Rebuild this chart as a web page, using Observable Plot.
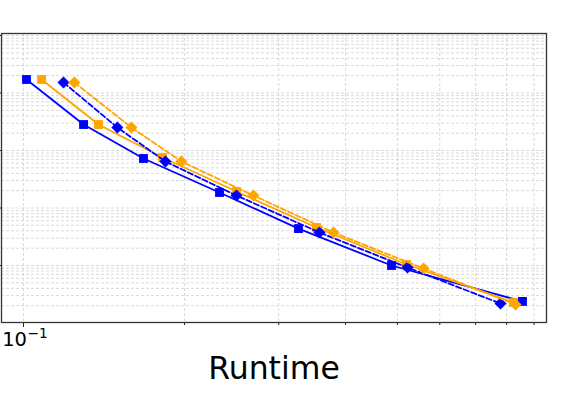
<!DOCTYPE html>
<html><head><meta charset="utf-8">
<script src="https://cdn.jsdelivr.net/npm/d3@7"></script>
<script src="https://cdn.jsdelivr.net/npm/@observablehq/plot@0.6"></script>
<style>html,body{margin:0;padding:0;background:#fff;} #chart svg{display:block;overflow:visible}</style>
</head><body><div id="chart"></div>
<script>
// Series 1: blue, solid, squares
const runtimeBlueSquare = [0.1013, 0.1295, 0.1676, 0.2325, 0.3266, 0.4874, 0.8564];
const errorBlueSquare   = [0.01718, 0.002831, 0.000726, 0.0001862, 4.39e-5, 1.0e-5, 2.37e-6];
// Series 2: orange, solid, squares
const runtimeOrangeSquare = [0.1081, 0.1381, 0.1819, 0.2501, 0.3529, 0.5198, 0.8240];
const errorOrangeSquare   = [0.01718, 0.002831, 0.000755, 0.0001936, 4.58e-5, 1.04e-5, 2.27e-6];
// Series 3: blue, dashed, diamonds
const runtimeBlueDiamond = [0.1188, 0.1498, 0.1842, 0.2501, 0.3575, 0.5221, 0.7791];
const errorBlueDiamond   = [0.01525, 0.002512, 0.000644, 0.0001648, 3.75e-5, 9.23e-6, 2.18e-6];
// Series 4: orange, dashed, diamonds
const runtimeOrangeDiamond = [0.1245, 0.1591, 0.1973, 0.2691, 0.3797, 0.5596, 0.8310];
const errorOrangeDiamond   = [0.01525, 0.002512, 0.000644, 0.0001648, 3.75e-5, 8.87e-6, 2.10e-6];

const xMajorTicks = [0.1];
const xLabel = "Runtime";

const xDomain = [Math.pow(10, -1.0411), Math.pow(10, -0.0224)];
const yDomain = [Math.pow(10, -5.9913), Math.pow(10, -0.9652)];

function rows(xs, ys) { return xs.map((x, i) => ({x, y: ys[i]})); }
const sA = rows(runtimeBlueSquare, errorBlueSquare);
const sB = rows(runtimeOrangeSquare, errorOrangeSquare);
const sC = rows(runtimeBlueDiamond, errorBlueDiamond);
const sD = rows(runtimeOrangeDiamond, errorOrangeDiamond);

const xGrid = d3.scaleLog().domain(xDomain).ticks();
const yGrid = d3.scaleLog().domain(yDomain).ticks();
const xMinor = xGrid.filter(v => !xMajorTicks.some(m => Math.abs(m - v) < 1e-12));
const yMajor = yGrid.filter(v => Math.abs(Math.log10(v) - Math.round(Math.log10(v))) < 1e-9);

const BLUE = "#0000ff", ORANGE = "#ffa500";
const FONT = "DejaVu Sans";
const gridStyle = {stroke: "#cfcfcf", strokeWidth: 0.8, strokeDasharray: "3,2"};

const plot = Plot.plot({
  width: 571, height: 411,
  marginLeft: 1, marginRight: 25, marginTop: 33, marginBottom: 89,
  style: {fontFamily: FONT, background: "#fff", overflow: "visible"},
  x: {type: "log", domain: xDomain},
  y: {type: "log", domain: yDomain},
  marks: [
    Plot.ruleX(xGrid, {x: d => d, ...gridStyle}),
    Plot.ruleY(yGrid, {y: d => d, ...gridStyle}),
    Plot.axisX({ticks: xMajorTicks, tickSize: 5, tickFormat: () => "", label: null, stroke: "#222"}),
    Plot.axisX({ticks: xMinor, tickSize: 3, tickFormat: () => "", label: null, stroke: "#222"}),
    Plot.axisY({ticks: yMajor, tickSize: 5, tickFormat: () => "", label: null, stroke: "#222"}),
    Plot.text(xMajorTicks, {x: d => d, text: () => "10", frameAnchor: "bottom", lineAnchor: "bottom", textAnchor: "end", dx: 3.5, dy: 23, fontSize: 19.5, fill: "#000"}),
    Plot.text(xMajorTicks, {x: d => d, text: () => "\u22121", frameAnchor: "bottom", lineAnchor: "bottom", textAnchor: "start", dx: 4, dy: 15, fontSize: 13.7, fill: "#000"}),
    Plot.text([xLabel], {text: d => d, frameAnchor: "bottom", lineAnchor: "bottom", dy: 56, fontSize: 31.5, fill: "#000"}),

    Plot.line(sA, {x: "x", y: "y", stroke: BLUE, strokeWidth: 1.8}),
    Plot.dot(sA, {x: "x", y: "y", symbol: "square", r: 5, fill: BLUE}),
    Plot.line(sB, {x: "x", y: "y", stroke: ORANGE, strokeWidth: 1.8}),
    Plot.dot(sB, {x: "x", y: "y", symbol: "square", r: 5, fill: ORANGE}),
    Plot.line(sC, {x: "x", y: "y", stroke: BLUE, strokeWidth: 1.8, strokeDasharray: "5.5,2.6"}),
    Plot.dot(sC, {x: "x", y: "y", symbol: "diamond2", r: 5.2, fill: BLUE, stroke: BLUE, strokeWidth: 0.5}),
    Plot.line(sD, {x: "x", y: "y", stroke: ORANGE, strokeWidth: 1.8, strokeDasharray: "5.5,2.6"}),
    Plot.dot(sD, {x: "x", y: "y", symbol: "diamond2", r: 5.2, fill: ORANGE, stroke: ORANGE, strokeWidth: 0.5}),

    Plot.frame({stroke: "#333", strokeWidth: 1.3})
  ]
});
document.getElementById("chart").appendChild(plot);
</script>
</body></html>
